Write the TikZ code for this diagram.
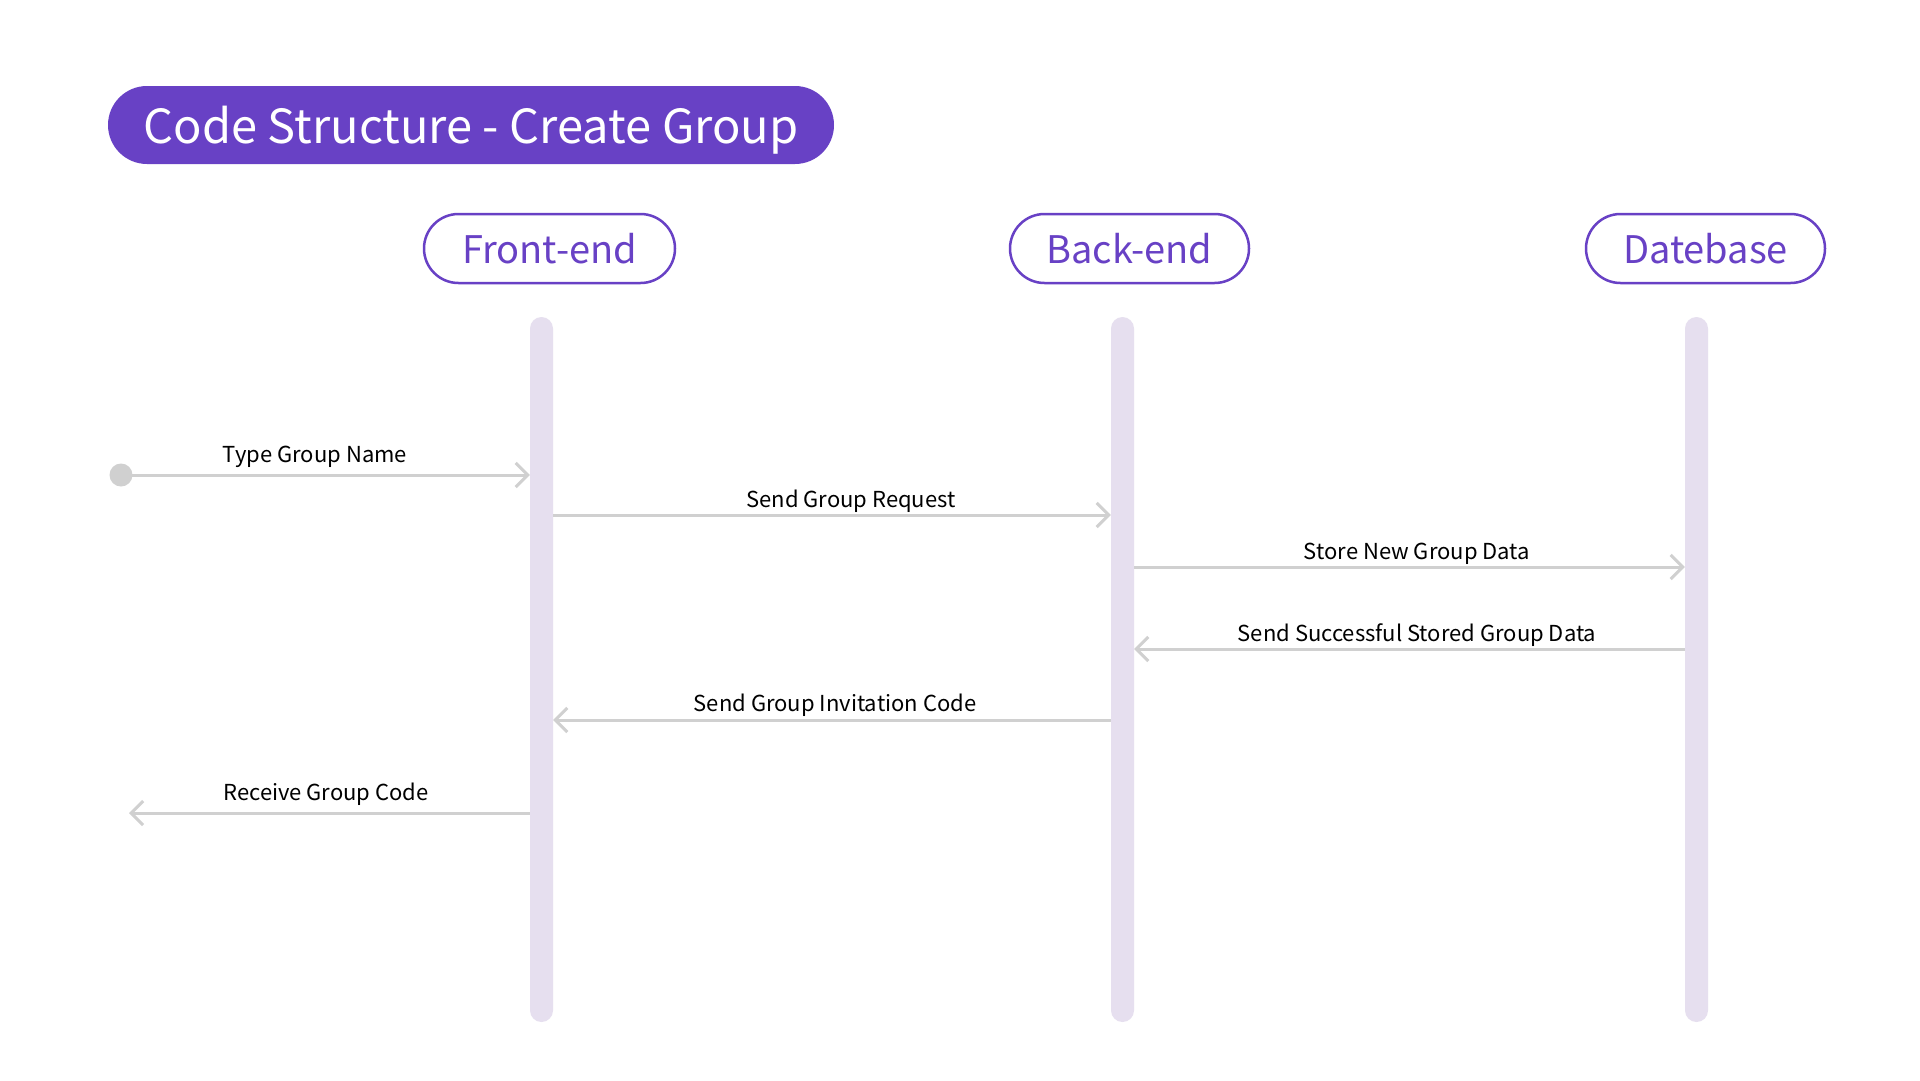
\documentclass[tikz,border=0pt]{standalone}
\usepackage{fontspec}
\setmainfont{Noto Sans CJK KR}
\usetikzlibrary{arrows.meta,shapes.misc,calc}
\definecolor{brand}{HTML}{6841C5}
\definecolor{life}{HTML}{E6DFEF}
\definecolor{conn}{HTML}{D0D0D0}
\begin{document}
\begin{tikzpicture}[x=1pt,y=-1pt,
  titlebox/.style={rectangle, rounded corners=39pt, fill=brand, minimum width=726pt, minimum height=78pt, text=white, font=\fontsize{47}{56}\selectfont, inner sep=0pt},
  actor/.style={rounded rectangle, draw=brand, line width=2.5pt, minimum height=69pt, text=brand, font=\fontsize{38}{44}\selectfont, inner sep=0pt},
  lifeline/.style={rectangle, fill=life, rounded corners=11.5pt, minimum width=23pt, minimum height=705pt, inner sep=0pt},
  msg/.style={draw=conn, line width=3pt, -{Straight Barb[length=12pt,width=24pt]}},
  lbl/.style={font=\fontsize{22}{26}\selectfont, anchor=base, text=black, inner sep=0pt},
  startdot/.style={circle, fill=conn, minimum size=23pt, inner sep=0pt}
]
\useasboundingbox (0,0) rectangle (1920,1080);
\fill[white] (0,0) rectangle (1920,1080);

\node[titlebox] (title) at (471,125) {\raisebox{-18pt}[0pt][0pt]{Code Structure - Create Group}};

\node[actor, minimum width=251pt] (FE) at (549.5,248.5) {Front-end};
\node[actor, minimum width=239pt] (BE) at (1129.5,248.5) {Back-end};
\node[actor, minimum width=239pt] (DB) at (1705.5,248.5) {Datebase};

\node[lifeline] (FL) at (541.5,669.5) {};
\node[lifeline] (BL) at (1122.5,669.5) {};
\node[lifeline] (DL) at (1696.5,669.5) {};

\node[startdot] (start) at (121,475) {};
\coordinate (finish) at (129,813);

\draw[msg] (start.center) -- (FL.west |- start);
\draw[msg] (FL.east |- 0,515) -- (BL.west |- 0,515);
\draw[msg] (BL.east |- 0,567) -- (DL.west |- 0,567);
\draw[msg] (DL.west |- 0,649) -- (BL.east |- 0,649);
\draw[msg] (BL.west |- 0,720) -- (FL.east |- 0,720);
\draw[msg] (FL.west |- finish) -- (finish);

\node[lbl] (l1) at (315,462) {Type Group Name};
\node[lbl] (l2) at (851,507) {Send Group Request};
\node[lbl] (l3) at (1417,559) {Store New Group Data};
\node[lbl] (l4) at (1417,641) {Send Successful Stored Group Data};
\node[lbl] (l5) at (835,711) {Send Group Invitation Code};
\node[lbl] (l6) at (326,800) {Receive Group Code};
\end{tikzpicture}
\end{document}
